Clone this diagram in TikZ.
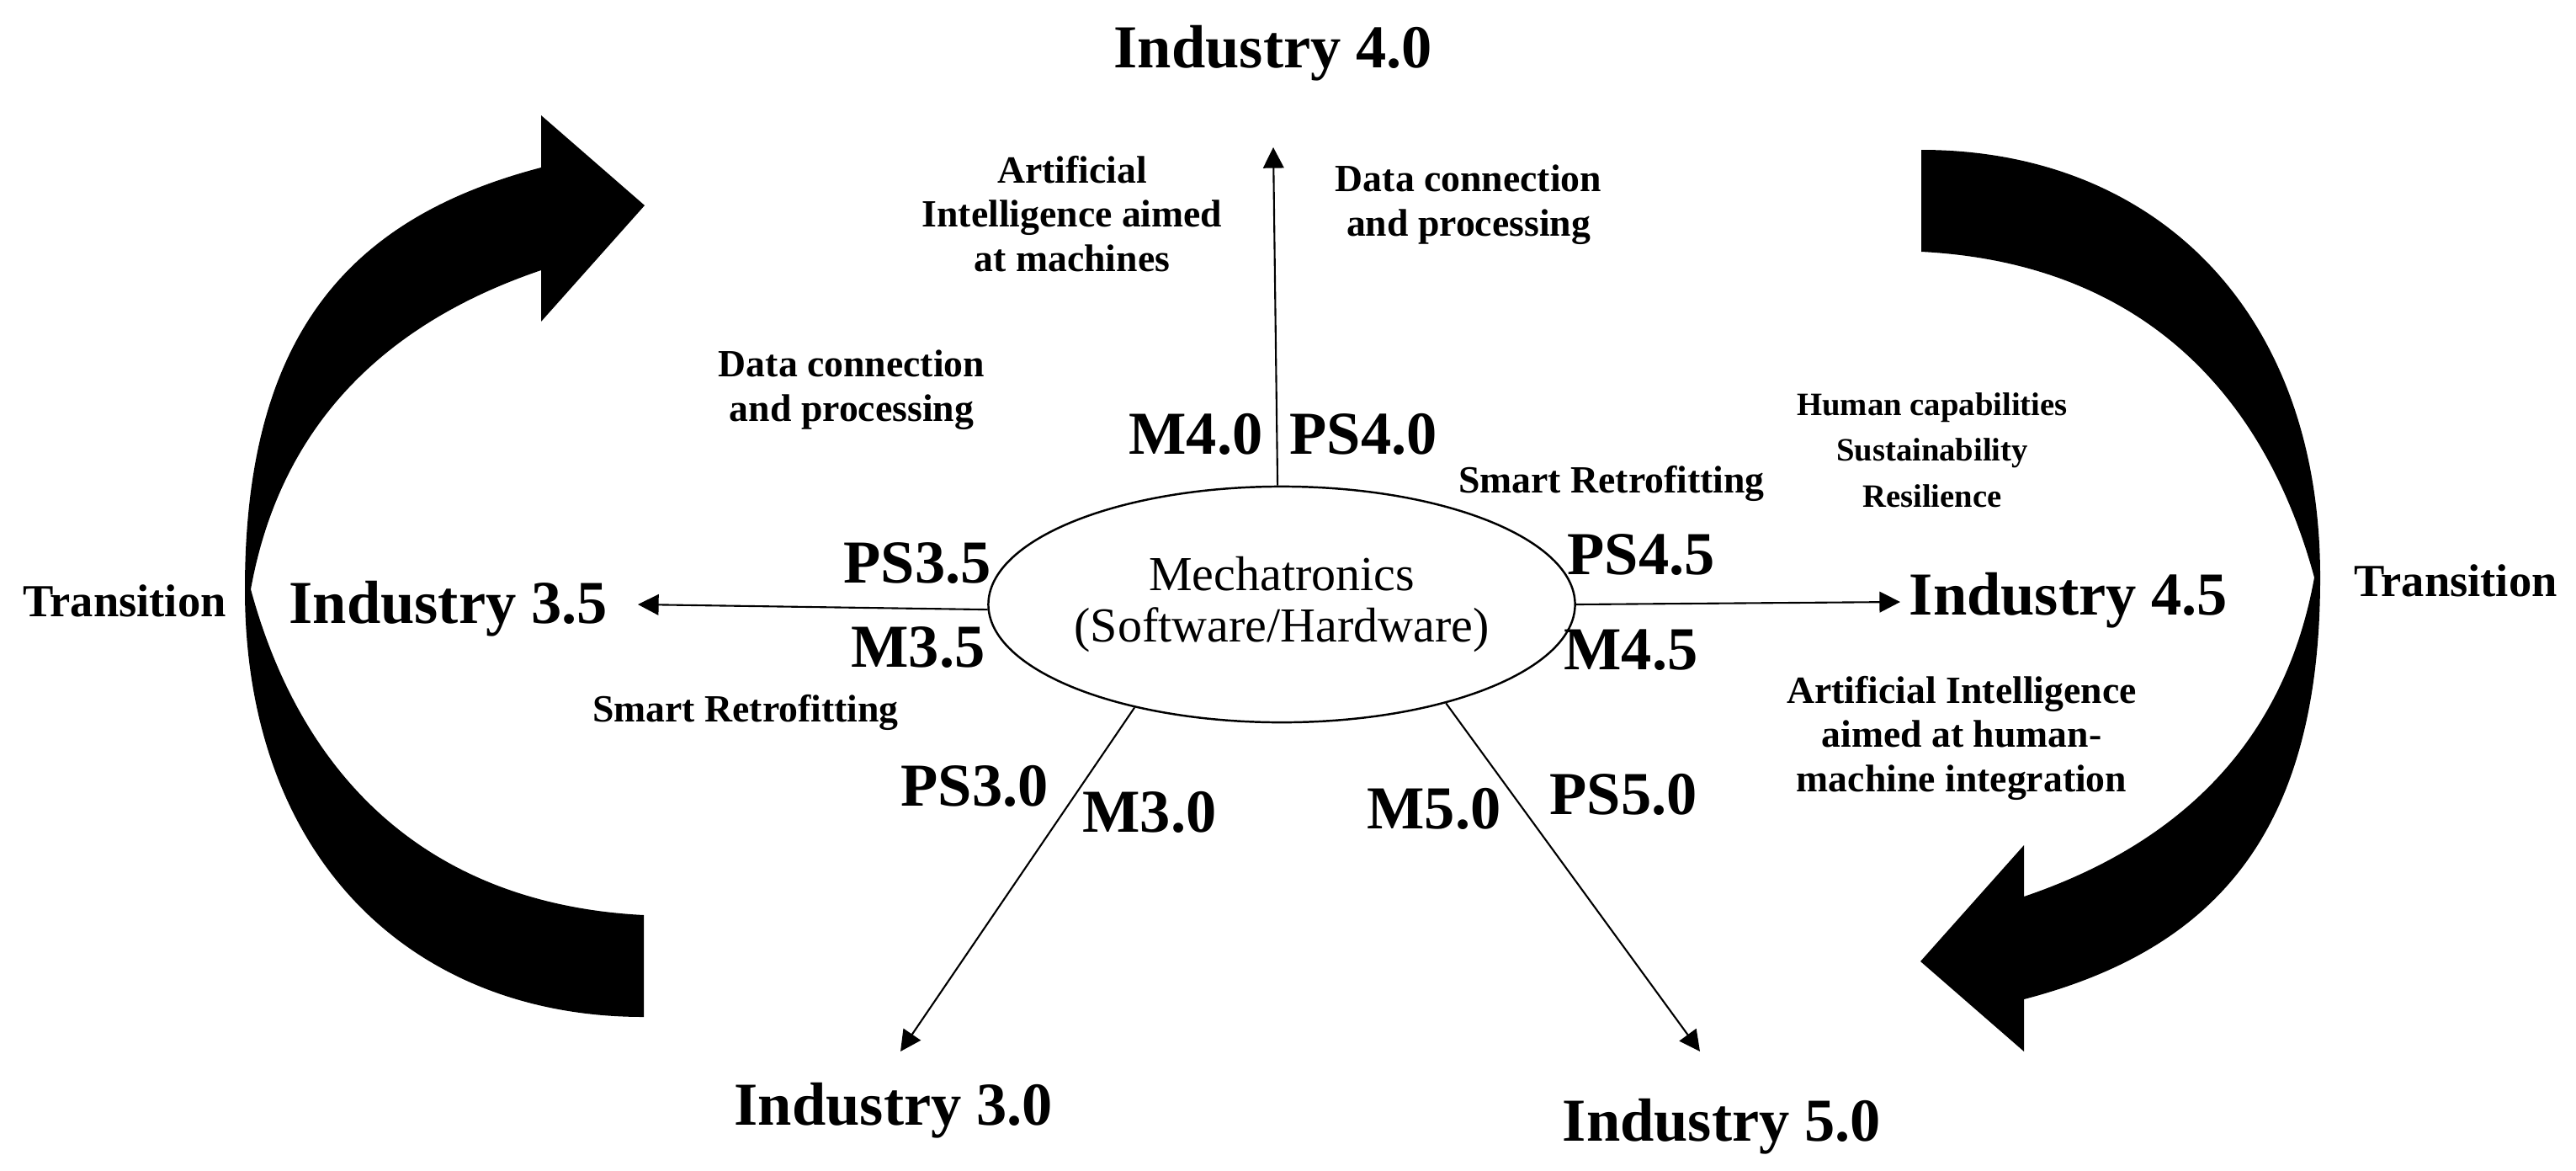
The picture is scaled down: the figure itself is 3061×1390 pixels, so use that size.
\documentclass[tikz,border=0pt]{standalone}
\usepackage{fontspec}
\setmainfont{Liberation Serif}
\usetikzlibrary{shapes.geometric,arrows.meta}
\newcommand{\myband}{%
  \fill (765,1087) -- (765,1208)
    .. controls (490,1208) and (291,1020) .. (291,700)
    .. controls (291,400) and (413,259) .. (643,199)
    -- (643,137) -- (766,244) -- (643,382) -- (643,321)
    .. controls (463,382) and (334,500) .. (298,700)
    .. controls (359,925) and (510,1074) .. (765,1087) -- cycle;}
\begin{document}
\begin{tikzpicture}[x=0.01cm,y=-0.01cm,
  big/.style={font=\fontsize{20.6}{24}\selectfont\bfseries, inner sep=0, anchor=base},
  small/.style={font=\fontsize{13}{14.9}\selectfont\bfseries, align=center, inner sep=0, anchor=base},
  smaller/.style={font=\fontsize{11}{15.5}\selectfont\bfseries, align=center, inner sep=0, anchor=base},
  trans/.style={font=\fontsize{15.5}{18}\selectfont\bfseries, inner sep=0, anchor=base},
  arr/.style={-{Triangle[length=7pt,width=7pt]}, line width=0.6pt}]
\useasboundingbox (0,0) rectangle (3061,1390);
% curved transition arrows
\myband
\begin{scope}[rotate around={180:(1524,693)}]
\myband
\end{scope}
% centre
\node[draw, ellipse, line width=0.7pt, minimum width=5.74cm, minimum height=2.8cm, inner sep=0,
      align=center, font=\fontsize{16.5}{17.6}\selectfont] (mech) at (1523,718)
      {Mechatronics\\(Software/Hardware)};
% industries
\node[big] (i40) at (1513,80) {Industry 4.0};
\node[big] (i35) at (533,740) {Industry 3.5};
\node[big] (i45) at (2458,730) {Industry 4.5};
\node[big] (i30) at (1062,1336) {Industry 3.0};
\node[big] (i50) at (2046,1355) {Industry 5.0};
% arrow ends
\coordinate (t40) at (1513,175);
\coordinate (t35) at (758,718);
\coordinate (t45) at (2258,715);
\coordinate (t30) at (1070,1249);
\coordinate (t50) at (2020,1249);
\draw[arr] (mech.92) -- (t40);
\draw[arr] (mech.181) -- (t35);
\draw[arr] (mech.0) -- (t45);
\draw[arr] (mech.215) -- (t30);
\draw[arr] (mech.329) -- (t50);
% PS / M labels
\node[big] (m40) at (1421,539) {M4.0};
\node[big] (ps40) at (1620,539) {PS4.0};
\node[big] (ps35) at (1090,692) {PS3.5};
\node[big] (m35) at (1091,792) {M3.5};
\node[big] (ps45) at (1950,682) {PS4.5};
\node[big] (m45) at (1938,795) {M4.5};
\node[big] (ps30) at (1158,957) {PS3.0};
\node[big] (m30) at (1366,988) {M3.0};
\node[big] (m50) at (1704,984) {M5.0};
\node[big] (ps50) at (1929,967) {PS5.0};
% transitions
\node[trans] (trL) at (148,732) {Transition};
\node[trans] (trR) at (2918,708) {Transition};
% descriptive labels (base = baseline of last line)
\node[small] (aim) at (1274,322) {Artificial\\Intelligence aimed\\at machines};
\node[small] (dcR) at (1745,280) {Data connection\\and processing};
\node[small] (dcL) at (1012,500) {Data connection\\and processing};
\node[small] (srU) at (1915,585) {Smart Retrofitting};
\node[small] (srL) at (886,857) {Smart Retrofitting};
\node[smaller] (hum) at (2296,602) {Human capabilities\\Sustainability\\Resilience};
\node[small] (aiR) at (2331,940) {Artificial Intelligence\\aimed at human-\\machine integration};
\end{tikzpicture}
\end{document}
